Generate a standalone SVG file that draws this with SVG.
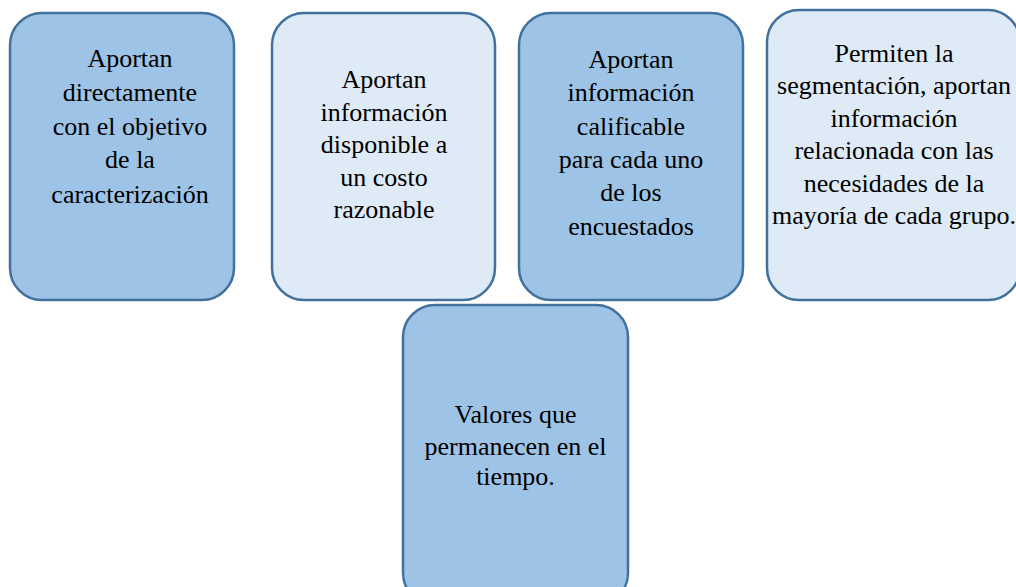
<svg xmlns="http://www.w3.org/2000/svg" width="1016" height="587" viewBox="0 0 1016 587">
<rect width="1016" height="587" fill="#FFFFFF"/>
<g id="connectors"></g>
<g id="node1">
<rect x="10" y="13" width="224" height="287" rx="32" ry="32" fill="#9DC3E6" stroke="#41719C" stroke-width="2.5"/>
<text x="130" y="67" font-family="Liberation Serif" font-size="26" text-anchor="middle">Aportan</text>
<text x="130" y="101" font-family="Liberation Serif" font-size="26" text-anchor="middle">directamente</text>
<text x="130" y="134.5" font-family="Liberation Serif" font-size="26" text-anchor="middle">con el objetivo</text>
<text x="130" y="168" font-family="Liberation Serif" font-size="26" text-anchor="middle">de la</text>
<text x="130" y="202.5" font-family="Liberation Serif" font-size="26" text-anchor="middle">caracterización</text>
</g>
<g id="node2">
<rect x="272" y="13" width="223" height="287" rx="32" ry="32" fill="#DEEAF6" stroke="#41719C" stroke-width="2.5"/>
<text x="384" y="88" font-family="Liberation Serif" font-size="26" text-anchor="middle">Aportan</text>
<text x="384" y="120.5" font-family="Liberation Serif" font-size="26" text-anchor="middle">información</text>
<text x="384" y="153" font-family="Liberation Serif" font-size="26" text-anchor="middle">disponible a</text>
<text x="384" y="185.5" font-family="Liberation Serif" font-size="26" text-anchor="middle">un costo</text>
<text x="384" y="218" font-family="Liberation Serif" font-size="26" text-anchor="middle">razonable</text>
</g>
<g id="node3">
<rect x="519" y="13" width="224" height="287" rx="32" ry="32" fill="#9DC3E6" stroke="#41719C" stroke-width="2.5"/>
<text x="631" y="68" font-family="Liberation Serif" font-size="26" text-anchor="middle">Aportan</text>
<text x="631" y="101.3" font-family="Liberation Serif" font-size="26" text-anchor="middle">información</text>
<text x="631" y="134.6" font-family="Liberation Serif" font-size="26" text-anchor="middle">calificable</text>
<text x="631" y="168" font-family="Liberation Serif" font-size="26" text-anchor="middle">para cada uno</text>
<text x="631" y="201.3" font-family="Liberation Serif" font-size="26" text-anchor="middle">de los</text>
<text x="631" y="234.6" font-family="Liberation Serif" font-size="26" text-anchor="middle">encuestados</text>
</g>
<g id="node4">
<rect x="767" y="10" width="253" height="290" rx="32" ry="32" fill="#DEEAF6" stroke="#41719C" stroke-width="2.5"/>
<text x="894" y="61.5" font-family="Liberation Serif" font-size="26" text-anchor="middle">Permiten la</text>
<text x="894" y="94" font-family="Liberation Serif" font-size="26" text-anchor="middle">segmentación, aportan</text>
<text x="894" y="126.5" font-family="Liberation Serif" font-size="26" text-anchor="middle">información</text>
<text x="894" y="159" font-family="Liberation Serif" font-size="26" text-anchor="middle">relacionada con las</text>
<text x="894" y="191.5" font-family="Liberation Serif" font-size="26" text-anchor="middle">necesidades de la</text>
<text x="894" y="224" font-family="Liberation Serif" font-size="26" text-anchor="middle">mayoría de cada grupo.</text>
</g>
<g id="node5">
<rect x="403" y="305" width="225" height="300" rx="32" ry="32" fill="#9DC3E6" stroke="#41719C" stroke-width="2.5"/>
<text x="515.5" y="423" font-family="Liberation Serif" font-size="26" text-anchor="middle">Valores que</text>
<text x="515.5" y="454.5" font-family="Liberation Serif" font-size="26" text-anchor="middle">permanecen en el</text>
<text x="515.5" y="485" font-family="Liberation Serif" font-size="26" text-anchor="middle">tiempo.</text>
</g>
</svg>
